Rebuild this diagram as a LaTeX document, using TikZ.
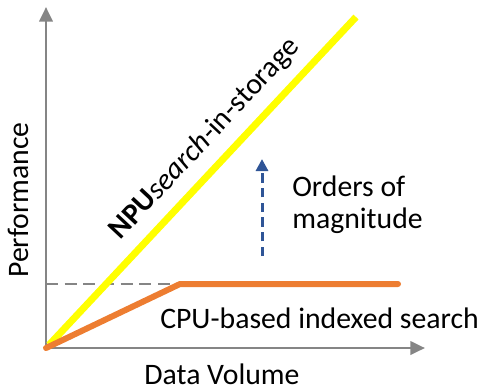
\documentclass[tikz,border=0pt]{standalone}
\usepackage{fontspec}
\setmainfont{Carlito}
\usetikzlibrary{arrows.meta}
\definecolor{axisgray}{HTML}{858585}
\definecolor{npuyellow}{HTML}{FFFF00}
\definecolor{cpuorange}{HTML}{ED7D31}
\definecolor{gainblue}{HTML}{2F5597}
\begin{document}
\begin{tikzpicture}[x=0.75pt,y=-0.75pt,
  axis/.style={draw=axisgray,line width=2.8pt*0.75,-{Triangle[length=11pt,width=10pt]}},
  lbl/.style={font=\fontsize{22.3}{24}\selectfont,inner sep=0pt},
]
\useasboundingbox (0,0) rectangle (484,387);
% axes
\coordinate (o) at (46,348);
\coordinate (ytop) at (46,7);
\coordinate (xend) at (425,348);
\draw[axis] (o) -- (ytop);
\draw[axis] (o) -- (xend);
% reference level of the CPU plateau
\coordinate (ylev) at (46,284);
\coordinate (knee) at (180,284);
\coordinate (cpuend) at (398,284);
\draw[axisgray,line width=2.6pt*0.75,dash pattern=on 9pt off 5pt] (ylev) -- (knee);
% NPU curve
\coordinate (npu0) at (49,345);
\coordinate (npu1) at (356,17);
\draw[npuyellow,line width=7pt*0.75] (npu0) -- (npu1);
% CPU curve
\draw[cpuorange,line width=6pt*0.75,line cap=round,line join=round] (o) -- (knee) -- (cpuend);
% gain arrow
\coordinate (g0) at (262,256);
\coordinate (g1) at (262,159);
\draw[gainblue,line width=3pt*0.75,dash pattern=on 7pt off 4pt,-{Triangle[length=9pt,width=9pt]}] (g0) -- (g1);
% labels
\node[lbl,anchor=west,align=left] (gain) at (292,205) {Orders of\\magnitude};
\node[lbl,anchor=west] (cpu) at (160,318) {CPU-based indexed search};
\node[lbl,anchor=base] (xl) at (222,384) {Data Volume};
\node[lbl,rotate=90] (yl) at (18,200) {Performance};
\node[lbl,rotate=47] (npu) at (205,139) {\textbf{NPU}\textit{search}-in-storage};
\end{tikzpicture}
\end{document}
